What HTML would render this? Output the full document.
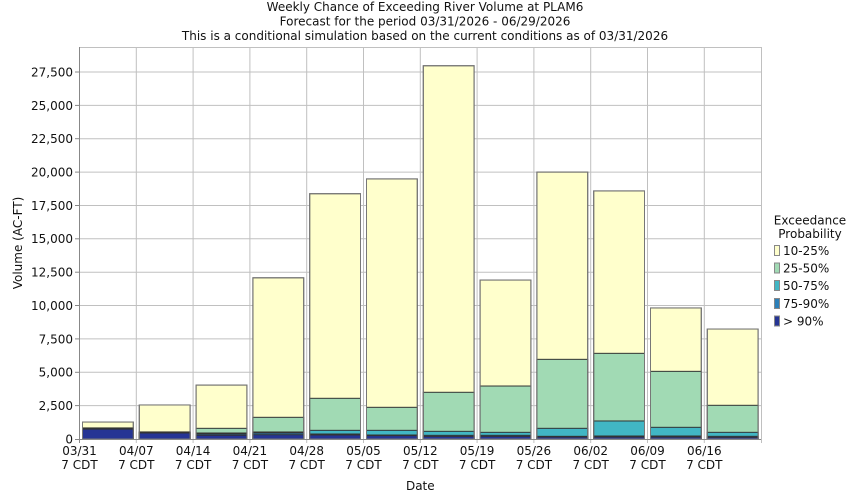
<!DOCTYPE html>
<html><head><meta charset="utf-8"><style>
html,body{margin:0;padding:0;background:#fff;}
svg{display:block;font-family:"DejaVu Sans","Liberation Sans",sans-serif;font-size:12px;}
</style></head><body>
<svg width="850" height="500" viewBox="0 0 850 500" xmlns="http://www.w3.org/2000/svg">
<rect width="850" height="500" fill="#fff"/>
<g text-anchor="middle" fill="#111">
<text x="425" y="11">Weekly Chance of Exceeding River Volume at PLAM6</text>
<text x="425" y="25.5">Forecast for the period 03/31/2026 - 06/29/2026</text>
<text x="425" y="40">This is a conditional simulation based on the current conditions as of 03/31/2026</text>
</g>
<!-- grid -->
<g stroke="#c0c0c0" stroke-width="1">
<line x1="79.5" y1="405.6" x2="761" y2="405.6"/>
<line x1="79.5" y1="372.3" x2="761" y2="372.3"/>
<line x1="79.5" y1="338.9" x2="761" y2="338.9"/>
<line x1="79.5" y1="305.5" x2="761" y2="305.5"/>
<line x1="79.5" y1="272.2" x2="761" y2="272.2"/>
<line x1="79.5" y1="238.8" x2="761" y2="238.8"/>
<line x1="79.5" y1="205.5" x2="761" y2="205.5"/>
<line x1="79.5" y1="172.1" x2="761" y2="172.1"/>
<line x1="79.5" y1="138.7" x2="761" y2="138.7"/>
<line x1="79.5" y1="105.4" x2="761" y2="105.4"/>
<line x1="79.5" y1="72" x2="761" y2="72"/>
<line x1="79.5" y1="47.5" x2="761" y2="47.5"/>
<line x1="136.3" y1="47" x2="136.3" y2="443"/>
<line x1="193.1" y1="47" x2="193.1" y2="443"/>
<line x1="249.9" y1="47" x2="249.9" y2="443"/>
<line x1="306.7" y1="47" x2="306.7" y2="443"/>
<line x1="363.5" y1="47" x2="363.5" y2="443"/>
<line x1="420.3" y1="47" x2="420.3" y2="443"/>
<line x1="477.1" y1="47" x2="477.1" y2="443"/>
<line x1="533.9" y1="47" x2="533.9" y2="443"/>
<line x1="590.7" y1="47" x2="590.7" y2="443"/>
<line x1="647.5" y1="47" x2="647.5" y2="443"/>
<line x1="704.3" y1="47" x2="704.3" y2="443"/>
<line x1="761.5" y1="47" x2="761.5" y2="443"/>
</g>
<!-- bars -->
<g stroke="#333" stroke-width="1">
<g transform="translate(82.5,0)">
<rect x="0" y="422.05" width="50.8" height="16.95" fill="#FFFFCC"/>
<rect x="0" y="427.92" width="50.8" height="11.08" fill="#A1DAB4"/>
<rect x="0" y="428.19" width="50.8" height="10.81" fill="#41B6C4"/>
<rect x="0" y="428.46" width="50.8" height="10.54" fill="#2C7FB8"/>
<rect x="0" y="429.13" width="50.8" height="9.87" fill="#253494"/>
<rect x="0" y="422.05" width="50.8" height="16.95" fill="none" stroke="#777"/>
</g>
<g transform="translate(139.3,0)">
<rect x="0" y="404.97" width="50.8" height="34.03" fill="#FFFFCC"/>
<rect x="0" y="431.93" width="50.8" height="7.07" fill="#A1DAB4"/>
<rect x="0" y="432.06" width="50.8" height="6.94" fill="#41B6C4"/>
<rect x="0" y="432.33" width="50.8" height="6.67" fill="#2C7FB8"/>
<rect x="0" y="433" width="50.8" height="6" fill="#253494"/>
<rect x="0" y="404.97" width="50.8" height="34.03" fill="none" stroke="#777"/>
</g>
<g transform="translate(196.1,0)">
<rect x="0" y="385.09" width="50.8" height="53.91" fill="#FFFFCC"/>
<rect x="0" y="428.32" width="50.8" height="10.68" fill="#A1DAB4"/>
<rect x="0" y="433" width="50.8" height="6" fill="#41B6C4"/>
<rect x="0" y="434" width="50.8" height="5" fill="#2C7FB8"/>
<rect x="0" y="435.26" width="50.8" height="3.74" fill="#253494"/>
<rect x="0" y="385.09" width="50.8" height="53.91" fill="none" stroke="#777"/>
</g>
<g transform="translate(252.9,0)">
<rect x="0" y="277.79" width="50.8" height="161.21" fill="#FFFFCC"/>
<rect x="0" y="417.31" width="50.8" height="21.69" fill="#A1DAB4"/>
<rect x="0" y="431.99" width="50.8" height="7.01" fill="#41B6C4"/>
<rect x="0" y="433" width="50.8" height="6" fill="#2C7FB8"/>
<rect x="0" y="434.73" width="50.8" height="4.27" fill="#253494"/>
<rect x="0" y="277.79" width="50.8" height="161.21" fill="none" stroke="#777"/>
</g>
<g transform="translate(309.7,0)">
<rect x="0" y="193.72" width="50.8" height="245.28" fill="#FFFFCC"/>
<rect x="0" y="398.3" width="50.8" height="40.7" fill="#A1DAB4"/>
<rect x="0" y="430.33" width="50.8" height="8.67" fill="#41B6C4"/>
<rect x="0" y="434" width="50.8" height="5" fill="#2C7FB8"/>
<rect x="0" y="435" width="50.8" height="4" fill="#253494"/>
<rect x="0" y="193.72" width="50.8" height="245.28" fill="none" stroke="#777"/>
</g>
<g transform="translate(366.5,0)">
<rect x="0" y="178.91" width="50.8" height="260.09" fill="#FFFFCC"/>
<rect x="0" y="407.31" width="50.8" height="31.69" fill="#A1DAB4"/>
<rect x="0" y="430.33" width="50.8" height="8.67" fill="#41B6C4"/>
<rect x="0" y="435" width="50.8" height="4" fill="#2C7FB8"/>
<rect x="0" y="435.66" width="50.8" height="3.34" fill="#253494"/>
<rect x="0" y="178.91" width="50.8" height="260.09" fill="none" stroke="#777"/>
</g>
<g transform="translate(423.3,0)">
<rect x="0" y="65.74" width="50.8" height="373.26" fill="#FFFFCC"/>
<rect x="0" y="392.29" width="50.8" height="46.71" fill="#A1DAB4"/>
<rect x="0" y="431.33" width="50.8" height="7.67" fill="#41B6C4"/>
<rect x="0" y="435.33" width="50.8" height="3.67" fill="#2C7FB8"/>
<rect x="0" y="436.33" width="50.8" height="2.67" fill="#253494"/>
<rect x="0" y="65.74" width="50.8" height="373.26" fill="none" stroke="#777"/>
</g>
<g transform="translate(480.1,0)">
<rect x="0" y="280.06" width="50.8" height="158.94" fill="#FFFFCC"/>
<rect x="0" y="386.02" width="50.8" height="52.98" fill="#A1DAB4"/>
<rect x="0" y="432.33" width="50.8" height="6.67" fill="#41B6C4"/>
<rect x="0" y="435.33" width="50.8" height="3.67" fill="#2C7FB8"/>
<rect x="0" y="436.33" width="50.8" height="2.67" fill="#253494"/>
<rect x="0" y="280.06" width="50.8" height="158.94" fill="none" stroke="#777"/>
</g>
<g transform="translate(536.9,0)">
<rect x="0" y="172.1" width="50.8" height="266.9" fill="#FFFFCC"/>
<rect x="0" y="359.33" width="50.8" height="79.67" fill="#A1DAB4"/>
<rect x="0" y="428.32" width="50.8" height="10.68" fill="#41B6C4"/>
<rect x="0" y="436.33" width="50.8" height="2.67" fill="#2C7FB8"/>
<rect x="0" y="437" width="50.8" height="2" fill="#253494"/>
<rect x="0" y="172.1" width="50.8" height="266.9" fill="none" stroke="#777"/>
</g>
<g transform="translate(593.7,0)">
<rect x="0" y="190.92" width="50.8" height="248.08" fill="#FFFFCC"/>
<rect x="0" y="353.33" width="50.8" height="85.67" fill="#A1DAB4"/>
<rect x="0" y="420.98" width="50.8" height="18.02" fill="#41B6C4"/>
<rect x="0" y="436" width="50.8" height="3" fill="#2C7FB8"/>
<rect x="0" y="437" width="50.8" height="2" fill="#253494"/>
<rect x="0" y="190.92" width="50.8" height="248.08" fill="none" stroke="#777"/>
</g>
<g transform="translate(650.5,0)">
<rect x="0" y="307.95" width="50.8" height="131.05" fill="#FFFFCC"/>
<rect x="0" y="371.34" width="50.8" height="67.66" fill="#A1DAB4"/>
<rect x="0" y="427.32" width="50.8" height="11.68" fill="#41B6C4"/>
<rect x="0" y="436" width="50.8" height="3" fill="#2C7FB8"/>
<rect x="0" y="437" width="50.8" height="2" fill="#253494"/>
<rect x="0" y="307.95" width="50.8" height="131.05" fill="none" stroke="#777"/>
</g>
<g transform="translate(707.3,0)">
<rect x="0" y="329.04" width="50.8" height="109.96" fill="#FFFFCC"/>
<rect x="0" y="405.3" width="50.8" height="33.7" fill="#A1DAB4"/>
<rect x="0" y="432.33" width="50.8" height="6.67" fill="#41B6C4"/>
<rect x="0" y="436.33" width="50.8" height="2.67" fill="#2C7FB8"/>
<rect x="0" y="437.27" width="50.8" height="1.73" fill="#253494"/>
<rect x="0" y="329.04" width="50.8" height="109.96" fill="none" stroke="#777"/>
</g>
</g>
<!-- axes -->
<g stroke="#888" stroke-width="1">
<line x1="79.5" y1="47" x2="79.5" y2="443"/>
<line x1="75" y1="439.5" x2="761" y2="439.5"/>
<line x1="75" y1="405.6" x2="79.5" y2="405.6"/>
<line x1="75" y1="372.3" x2="79.5" y2="372.3"/>
<line x1="75" y1="338.9" x2="79.5" y2="338.9"/>
<line x1="75" y1="305.5" x2="79.5" y2="305.5"/>
<line x1="75" y1="272.2" x2="79.5" y2="272.2"/>
<line x1="75" y1="238.8" x2="79.5" y2="238.8"/>
<line x1="75" y1="205.5" x2="79.5" y2="205.5"/>
<line x1="75" y1="172.1" x2="79.5" y2="172.1"/>
<line x1="75" y1="138.7" x2="79.5" y2="138.7"/>
<line x1="75" y1="105.4" x2="79.5" y2="105.4"/>
<line x1="75" y1="72" x2="79.5" y2="72"/>
</g>
<!-- y tick labels -->
<g text-anchor="end" fill="#111">
<text x="73" y="443.5">0</text>
<text x="73" y="410">2,500</text>
<text x="73" y="376.7">5,000</text>
<text x="73" y="343.3">7,500</text>
<text x="73" y="310">10,000</text>
<text x="73" y="276.6">12,500</text>
<text x="73" y="243.2">15,000</text>
<text x="73" y="209.9">17,500</text>
<text x="73" y="176.5">20,000</text>
<text x="73" y="143.1">22,500</text>
<text x="73" y="109.8">25,000</text>
<text x="73" y="76.4">27,500</text>
</g>
<text transform="translate(22,243) rotate(-90)" text-anchor="middle" fill="#111">Volume (AC-FT)</text>
<!-- x tick labels -->
<g text-anchor="middle" fill="#111">
<text x="79.5" y="455">03/31</text><text x="79.5" y="469">7 CDT</text>
<text x="136.3" y="455">04/07</text><text x="136.3" y="469">7 CDT</text>
<text x="193.1" y="455">04/14</text><text x="193.1" y="469">7 CDT</text>
<text x="249.9" y="455">04/21</text><text x="249.9" y="469">7 CDT</text>
<text x="306.7" y="455">04/28</text><text x="306.7" y="469">7 CDT</text>
<text x="363.5" y="455">05/05</text><text x="363.5" y="469">7 CDT</text>
<text x="420.3" y="455">05/12</text><text x="420.3" y="469">7 CDT</text>
<text x="477.1" y="455">05/19</text><text x="477.1" y="469">7 CDT</text>
<text x="533.9" y="455">05/26</text><text x="533.9" y="469">7 CDT</text>
<text x="590.7" y="455">06/02</text><text x="590.7" y="469">7 CDT</text>
<text x="647.5" y="455">06/09</text><text x="647.5" y="469">7 CDT</text>
<text x="704.3" y="455">06/16</text><text x="704.3" y="469">7 CDT</text>
<text x="420.3" y="490">Date</text>
</g>
<!-- legend -->
<g fill="#111">
<text x="810" y="224.5" text-anchor="middle">Exceedance</text>
<text x="810" y="238" text-anchor="middle">Probability</text>
<rect x="774.5" y="245.5" width="5" height="10" fill="#FFFFCC" stroke="#888"/>
<text x="783" y="255">10-25%</text>
<rect x="774.5" y="263" width="5" height="10" fill="#A1DAB4" stroke="#888"/>
<text x="783" y="272.5">25-50%</text>
<rect x="774.5" y="280.5" width="5" height="10" fill="#41B6C4" stroke="#888"/>
<text x="783" y="290">50-75%</text>
<rect x="774.5" y="298.5" width="5" height="10" fill="#2C7FB8" stroke="#888"/>
<text x="783" y="308">75-90%</text>
<rect x="774.5" y="316" width="5" height="10" fill="#253494" stroke="#888"/>
<text x="783" y="325.5">&gt; 90%</text>
</g>
</svg>
</body></html>
